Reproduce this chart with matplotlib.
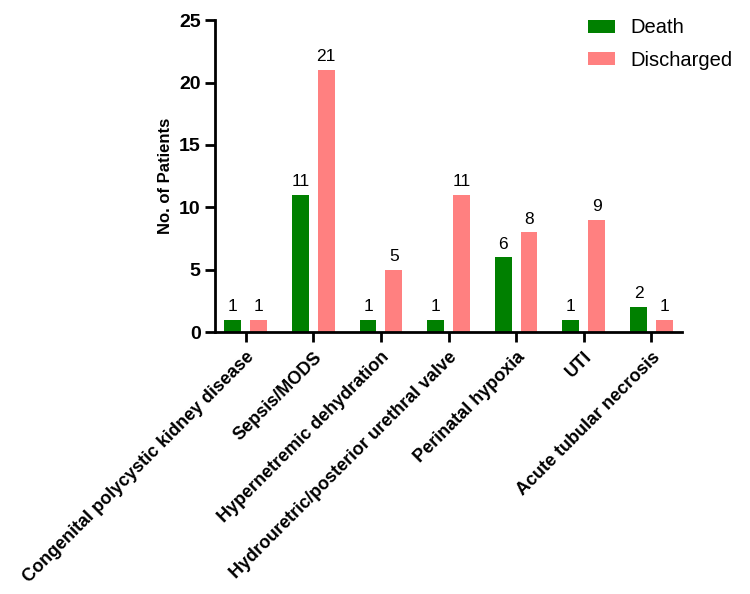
import numpy as np
import matplotlib
matplotlib.use("Agg")
import matplotlib.pyplot as plt

plt.rcParams['font.family'] = ['Liberation Sans', 'DejaVu Sans']

causes = ['Congenital polycystic kidney disease', 'Sepsis/MODS',
          'Hypernetremic dehydration', 'Hydrouretric/posterior urethral valve',
          'Perinatal hypoxia', 'UTI', 'Acute tubular necrosis']
death = [1, 11, 1, 1, 6, 1, 2]
discharged = [1, 21, 5, 11, 8, 9, 1]

green = '#008000'
pink = '#FF8080'

fig = plt.figure(figsize=(7.5, 5.94), dpi=100)
ax = fig.add_axes([0.287, 0.441, 0.622, 0.525])

x = np.arange(len(causes))
w = 0.25
b1 = ax.bar(x - 0.19, death, w, color=green, label='Death')
b2 = ax.bar(x + 0.19, discharged, w, color=pink, label='Discharged')

for bars in (b1, b2):
    for r in bars:
        ax.text(r.get_x() + r.get_width() / 2, r.get_height() + 0.45,
                str(int(r.get_height())), ha='center', va='bottom', fontsize=12.5)

ax.set_ylim(0, 25)
ax.set_xlim(-0.45, 6.45)
ax.set_yticks(range(0, 26, 5))
ax.set_xticks(x)
ax.set_xticklabels(causes, rotation=45, ha='right', rotation_mode='anchor',
                   fontsize=13, fontweight='bold')
for lbl in ax.get_yticklabels():
    lbl.set_fontweight('bold')
    lbl.set_fontsize(14)
ax.set_ylabel('No. of Patients', fontsize=12, fontweight='bold', labelpad=4)

for s in ('top', 'right'):
    ax.spines[s].set_visible(False)
for s in ('left', 'bottom'):
    ax.spines[s].set_linewidth(2)
ax.tick_params(axis='both', width=2, length=7)
ax.tick_params(axis='x', pad=5)

fig.legend(handles=[b1, b2], loc='upper left', bbox_to_anchor=(0.784, 0.969),
           frameon=False, fontsize=14.5, handlelength=1.35, handleheight=0.65,
           handletextpad=0.75, labelspacing=0.65, borderpad=0, borderaxespad=0)

plt.savefig('out.png')
